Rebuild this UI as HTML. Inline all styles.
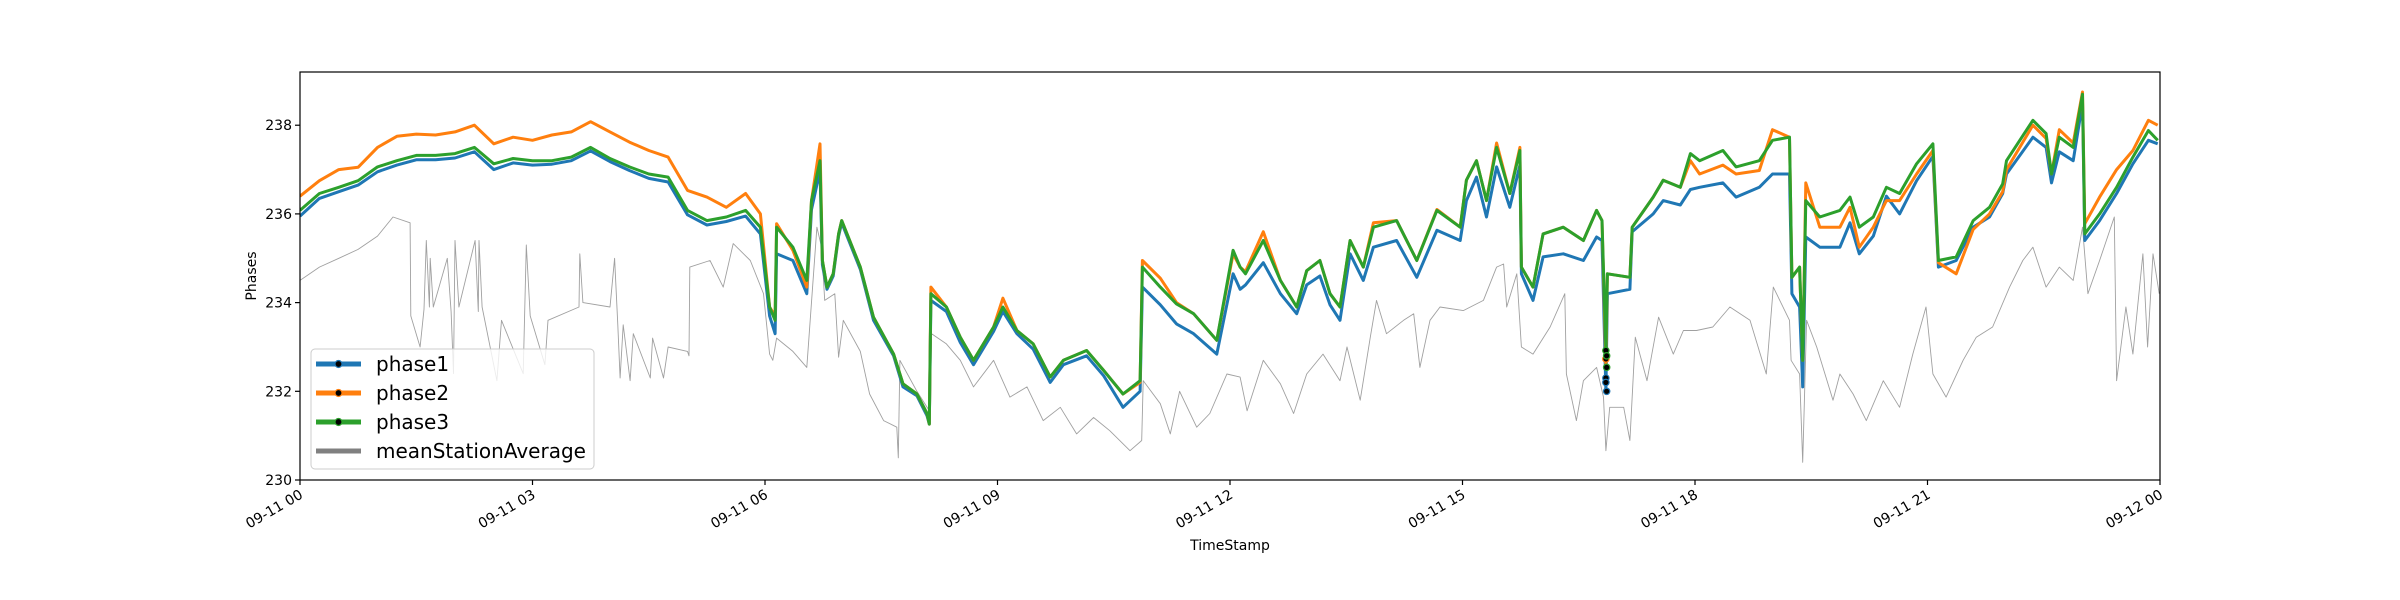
<!DOCTYPE html>
<html><head><meta charset="utf-8">
<style>
html,body{margin:0;padding:0;background:#fff;}
svg{display:block;font-family:"DejaVu Sans","Liberation Sans",sans-serif;}
</style></head>
<body>
<svg id="chart" width="2400" height="600" viewBox="0 0 2400 600" xmlns="http://www.w3.org/2000/svg">
<rect width="2400" height="600" fill="#fff"/>
<g id="plot"></g>
<g id="axes"></g>
<text x="1230" y="550" font-size="14" text-anchor="middle">TimeStamp</text>
<text x="256" y="276" font-size="14" text-anchor="middle" transform="rotate(-90 256 276)">Phases</text>
<g id="legend"></g>
</svg>
<script>
const phaseHours=[0,0.25,0.5,0.75,1,1.25,1.5,1.75,2,2.25,2.5,2.75,3,3.25,3.5,3.75,4,4.25,4.5,4.75,5,5.25,5.5,5.75,5.94,6.06,6.13,6.15,6.36,6.54,6.6,6.71,6.74,6.8,6.88,6.95,6.99,7.23,7.4,7.66,7.78,7.96,8.09,8.12,8.14,8.34,8.52,8.69,8.95,9.07,9.25,9.46,9.68,9.85,10.15,10.37,10.62,10.84,10.87,11.1,11.31,11.53,11.83,12.04,12.13,12.2,12.43,12.65,12.86,12.99,13.16,13.29,13.42,13.55,13.72,13.85,14.15,14.41,14.67,14.97,15.05,15.18,15.31,15.44,15.61,15.74,15.76,15.91,16.04,16.3,16.56,16.73,16.8,16.85,16.87,17.16,17.19,17.46,17.59,17.81,17.94,18.06,18.36,18.53,18.83,19,19.22,19.25,19.35,19.39,19.43,19.61,19.87,20,20.12,20.3,20.47,20.64,20.86,21.07,21.14,21.37,21.59,21.8,21.97,22.02,22.36,22.53,22.6,22.7,22.88,23,23.03,23.22,23.44,23.65,23.85,23.97];
const phase1=[235.95,236.35,236.5,236.65,236.95,237.1,237.22,237.22,237.26,237.4,237,237.15,237.1,237.12,237.2,237.42,237.18,236.98,236.8,236.72,235.98,235.75,235.83,235.95,235.55,233.7,233.3,235.1,234.95,234.2,236.1,236.98,234.85,234.3,234.6,235.5,235.8,234.75,233.6,232.8,232.1,231.9,231.45,231.26,234.05,233.8,233.1,232.6,233.35,233.8,233.3,232.95,232.2,232.6,232.8,232.35,231.64,232,234.35,233.95,233.52,233.3,232.84,234.65,234.3,234.4,234.9,234.2,233.75,234.4,234.6,233.95,233.6,235.1,234.5,235.25,235.4,234.57,235.63,235.4,236.3,236.83,235.93,237.06,236.15,237.1,234.65,234.05,235.03,235.1,234.95,235.48,235.4,232,234.2,234.3,235.6,236,236.3,236.2,236.55,236.6,236.7,236.38,236.6,236.9,236.9,234.2,233.9,232.1,235.48,235.25,235.25,235.8,235.1,235.5,236.4,236,236.75,237.3,234.8,234.95,235.7,235.93,236.46,236.9,237.73,237.5,236.7,237.4,237.2,238.5,235.4,235.85,236.46,237.13,237.66,237.58];
const phase2=[236.4,236.75,237,237.05,237.5,237.75,237.8,237.78,237.85,238,237.58,237.73,237.66,237.78,237.85,238.08,237.85,237.62,237.43,237.28,236.53,236.38,236.15,236.46,236,233.9,233.7,235.78,235.18,234.35,236.3,237.58,234.95,234.35,234.65,235.55,235.85,234.8,233.67,232.84,232.17,231.94,231.5,231.26,234.35,233.9,233.22,232.7,233.45,234.1,233.37,233.07,232.32,232.7,232.92,232.47,231.94,232.2,234.95,234.55,234,233.75,233.15,235.1,234.8,234.7,235.6,234.5,233.9,234.72,234.95,234.2,233.9,235.4,234.8,235.8,235.85,234.95,236.1,235.7,236.76,237.2,236.3,237.6,236.46,237.5,234.8,234.35,235.55,235.7,235.4,236.08,235.85,232.6,234.65,234.57,235.7,236.38,236.76,236.6,237.2,236.9,237.1,236.9,236.98,237.9,237.73,234.57,234.8,232.7,236.7,235.7,235.7,236.15,235.25,235.7,236.3,236.3,236.9,237.43,234.9,234.65,235.65,236,236.5,237,238,237.7,236.9,237.9,237.6,238.75,235.78,236.38,237,237.43,238.11,238];
const phase3=[236.08,236.46,236.6,236.75,237.06,237.2,237.32,237.32,237.36,237.5,237.13,237.25,237.2,237.2,237.28,237.5,237.25,237.06,236.9,236.83,236.08,235.85,235.93,236.08,235.7,233.9,233.6,235.7,235.25,234.5,236.3,237.2,234.95,234.35,234.65,235.55,235.85,234.8,233.67,232.84,232.17,231.94,231.5,231.26,234.2,233.9,233.22,232.7,233.45,233.9,233.37,233.07,232.32,232.7,232.92,232.47,231.94,232.24,234.8,234.35,233.97,233.75,233.15,235.18,234.8,234.65,235.4,234.5,233.9,234.72,234.95,234.2,233.9,235.4,234.8,235.7,235.85,234.95,236.08,235.7,236.76,237.2,236.3,237.5,236.46,237.43,234.8,234.35,235.55,235.7,235.4,236.08,235.85,232.92,234.65,234.57,235.7,236.38,236.76,236.6,237.36,237.2,237.43,237.06,237.2,237.66,237.73,234.57,234.8,232.7,236.3,235.93,236.08,236.38,235.7,235.93,236.6,236.46,237.13,237.58,234.95,235.03,235.85,236.15,236.68,237.2,238.11,237.81,236.9,237.73,237.5,238.7,235.55,236,236.6,237.28,237.88,237.66];
const grayHours=[0,0.25,0.5,0.75,1,1.2,1.42,1.43,1.55,1.6,1.63,1.67,1.68,1.72,1.9,1.95,1.98,2,2.05,2.26,2.3,2.31,2.35,2.54,2.6,2.88,2.92,2.97,3.16,3.2,3.6,3.61,3.65,4,4.06,4.1,4.13,4.17,4.26,4.3,4.52,4.55,4.69,4.75,5,5.02,5.03,5.29,5.46,5.59,5.81,5.98,6.06,6.1,6.15,6.36,6.54,6.67,6.73,6.77,6.9,6.95,7.01,7.23,7.35,7.53,7.7,7.72,7.74,7.96,8.12,8.15,8.34,8.52,8.69,8.95,9.16,9.38,9.59,9.81,10.02,10.24,10.45,10.71,10.86,10.88,11.1,11.23,11.35,11.57,11.74,11.96,12.13,12.22,12.43,12.65,12.82,12.99,13.2,13.42,13.51,13.68,13.81,13.89,14.02,14.24,14.37,14.45,14.58,14.71,15.01,15.27,15.44,15.53,15.57,15.7,15.76,15.91,16.13,16.32,16.34,16.47,16.56,16.73,16.82,16.85,16.9,17.08,17.16,17.23,17.38,17.53,17.72,17.85,18.02,18.23,18.45,18.71,18.92,19.01,19.22,19.24,19.35,19.39,19.44,19.57,19.78,19.87,20.04,20.21,20.43,20.64,20.81,20.98,21.07,21.24,21.46,21.63,21.84,22.06,22.23,22.36,22.53,22.7,22.88,23,23.07,23.22,23.41,23.44,23.56,23.65,23.78,23.84,23.91,23.99];
const grayValues=[234.5,234.8,235,235.2,235.5,235.93,235.8,233.7,233,233.85,235.4,233.9,235,233.9,235,233.8,232.4,235.4,233.9,235.4,233.8,235.4,233.9,232.24,233.6,232.4,235.3,233.7,232.6,233.6,233.9,235.1,234,233.9,235,233.5,232.3,233.5,232.24,233.3,232.3,233.2,232.3,233,232.9,232.8,234.8,234.95,234.35,235.33,234.95,234.2,232.84,232.7,233.2,232.9,232.54,235.7,235.25,234.05,234.2,232.77,233.6,232.9,231.94,231.34,231.19,230.5,232.7,232,231.56,233.3,233.07,232.7,232.1,232.7,231.87,232.1,231.34,231.64,231.04,231.41,231.11,230.66,230.89,232.24,231.72,231.04,232,231.19,231.5,232.39,232.32,231.56,232.7,232.17,231.5,232.39,232.84,232.24,233,231.8,233.22,234.05,233.3,233.6,233.75,232.54,233.6,233.9,233.82,234.05,234.8,234.87,233.9,234.65,233,232.84,233.45,234.2,232.39,231.34,232.24,232.54,231.87,230.66,231.64,231.64,230.89,233.22,232.24,233.67,232.84,233.37,233.37,233.45,233.9,233.6,232.39,234.35,233.6,232.7,232.39,230.4,233.6,233,231.8,232.39,231.94,231.34,232.24,231.64,232.84,233.9,232.39,231.87,232.7,233.22,233.45,234.35,234.95,235.25,234.35,234.8,234.5,235.7,234.2,234.95,235.93,232.24,233.9,232.84,235.1,233,235.1,234.2];
const markerHours1=[16.85,16.85,16.86];
const markerValues1=[232.3,232.2,232.0];
const markerHours2=[16.85];
const markerValues2=[232.73];
const markerHours3=[16.85,16.86,16.86];
const markerValues3=[232.92,232.8,232.54];
const yTicks=[230,232,234,236,238];
const xTickHours=[0,3,6,9,12,15,18,21,24];
const xTickLabels=["09-11 00","09-11 03","09-11 06","09-11 09","09-11 12","09-11 15","09-11 18","09-11 21","09-12 00"];
const legendLabels=["phase1","phase2","phase3","meanStationAverage"];

const NS="http://www.w3.org/2000/svg";
const X0=300,X1=2160,Y0=72,Y1=480,YMIN=230,YMAX=239.2;
const xs=h=>X0+(X1-X0)*h/24;
const ys=v=>Y1-(Y1-Y0)*(v-YMIN)/(YMAX-YMIN);
function mk(tag,attrs,parent){const e=document.createElementNS(NS,tag);for(const k in attrs)e.setAttribute(k,attrs[k]);parent.appendChild(e);return e;}
const plot=document.getElementById('plot'),axes=document.getElementById('axes'),legend=document.getElementById('legend');
const cp=mk('clipPath',{id:'clip'},plot);
mk('rect',{x:X0,y:Y0,width:X1-X0,height:Y1-Y0},cp);
function line(hours,vals,color,w,name,op){
  const d=hours.map((h,i)=>(i?'L':'M')+xs(h).toFixed(1)+' '+ys(vals[i]).toFixed(1)).join(' ');
  const p=mk('path',{d:d,fill:'none',stroke:color,'stroke-width':w,'stroke-linejoin':'round','clip-path':'url(#clip)','opacity':op},plot);
  
  
}
line(grayHours,grayValues,'#808080',0.9,'mean-station-average-line',0.75);
line(phaseHours,phase1,'#1f77b4',3,'phase1-line',1);
line(phaseHours,phase2,'#ff7f0e',3,'phase2-line',1);
line(phaseHours,phase3,'#2ca02c',3,'phase3-line',1);
function markers(hours,vals,color,name){
  hours.forEach((h,i)=>{const c=mk('circle',{cx:xs(h),cy:ys(vals[i]),r:3.2,fill:'#000',stroke:color,'stroke-width':1.2},plot);
  
  });
}
markers(markerHours1,markerValues1,'#1f77b4','phase1-marker');
markers(markerHours2,markerValues2,'#ff7f0e','phase2-marker');
markers(markerHours3,markerValues3,'#2ca02c','phase3-marker');
const fr=mk('rect',{x:X0,y:Y0,width:X1-X0,height:Y1-Y0,fill:'none',stroke:'#000','stroke-width':1.2},axes);


yTicks.forEach(v=>{
  const y=ys(v);
  const t=mk('line',{x1:X0-5,x2:X0,y1:y,y2:y,stroke:'#000','stroke-width':1.2},axes);
  
  
  const l=mk('text',{x:X0-8,y:y+5,'font-size':14,'text-anchor':'end'},axes);l.textContent=v;
  
  
});
xTickHours.forEach((h,i)=>{
  const x=xs(h);
  const t=mk('line',{x1:x,x2:x,y1:Y1,y2:Y1+5,stroke:'#000','stroke-width':1.2},axes);
  
  
  const ax=x-1,ay=Y1+9;
  const l=mk('text',{x:ax,y:ay,'font-size':14,'text-anchor':'end','dominant-baseline':'hanging',transform:`rotate(-30 ${ax} ${ay})`},axes);
  l.textContent=xTickLabels[i];
  
  
});
const lb=mk('rect',{x:311,y:349,width:283,height:120,rx:4,fill:'#fff','fill-opacity':0.8,stroke:'#cccccc','stroke-width':1},legend);


const lcolors=['#1f77b4','#ff7f0e','#2ca02c','#808080'];
legendLabels.forEach((lab,i)=>{
  const y=364+i*29;
  const g=mk('g',{},legend);
  
  
  mk('line',{x1:316,x2:361,y1:y,y2:y,stroke:lcolors[i],'stroke-width':5},g);
  if(i<3)mk('circle',{cx:338.5,cy:y,r:3.5,fill:'#000',stroke:lcolors[i],'stroke-width':1.2},g);
  const t=mk('text',{x:376,y:y+7,'font-size':20},g);t.textContent=lab;
});
</script>
</body></html>
